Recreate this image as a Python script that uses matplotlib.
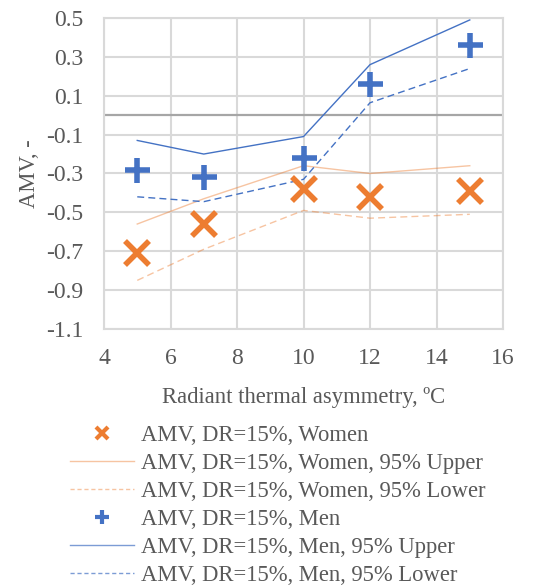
import matplotlib.pyplot as plt
from matplotlib.lines import Line2D

plt.rcParams['font.family'] = ['Liberation Serif', 'DejaVu Serif']

# Radiant thermal asymmetry (degC)
asym = [5, 7, 10, 12, 15]

# Actual mean vote, women (mean and 95% bounds)
women = [-0.71, -0.56, -0.38, -0.42, -0.39]
women_upper = [-0.56, -0.43, -0.26, -0.30, -0.26]
women_lower = [-0.85, -0.69, -0.49, -0.53, -0.51]

# Actual mean vote, men (mean and 95% bounds)
men = [-0.28, -0.32, -0.22, 0.16, 0.36]
men_upper = [-0.13, -0.20, -0.11, 0.26, 0.49]
men_lower = [-0.42, -0.445, -0.33, 0.064, 0.24]

yticks = [0.5, 0.3, 0.1, -0.1, -0.3, -0.5, -0.7, -0.9, -1.1]
xticks = [4, 6, 8, 10, 12, 14, 16]

orange = '#ED7D31'
blue = '#4472C4'
grey = '#595959'
fs = 16.3

fig = plt.figure(figsize=(5.38, 5.86), dpi=100)
ax = fig.add_axes([0.1933, 0.4386, 0.7417, 0.5307])

ax.plot(asym, women_upper, color=orange, alpha=0.45, lw=1.0)
ax.plot(asym, women_lower, color=orange, alpha=0.45, lw=1.0, ls=(0, (5, 3)))
ax.plot(asym, men_upper, color=blue, lw=1.0)
ax.plot(asym, men_lower, color=blue, lw=1.0, ls=(0, (5, 3)))
ax.plot(asym, women, ls='none', marker='x', ms=17, mew=4, color=orange, zorder=4)
ax.plot(asym, men, ls='none', marker='+', ms=18, mew=4, color=blue, zorder=4)

ax.axhline(0, color='#A6A6A6', lw=1.6, zorder=1)

ax.set_xlim(4, 16)
ax.set_ylim(-1.1, 0.5)
ax.set_xticks(xticks)
ax.set_yticks(yticks)
ax.set_yticklabels([f'{v:.1f}' for v in yticks])
ax.grid(True, color='#D9D9D9', lw=1.5, zorder=0)
ax.set_axisbelow(True)
ax.tick_params(length=0, labelsize=17, labelcolor=grey)
ax.tick_params(axis='y', pad=15)
ax.tick_params(axis='x', pad=14)
for s in ax.spines.values():
    s.set_color('#D9D9D9')
    s.set_linewidth(1.5)

ax.set_xlabel('Radiant thermal asymmetry, ºC', fontsize=fs, color=grey, labelpad=13)
ax.set_ylabel('AMV, -', fontsize=fs, color=grey, labelpad=4)

handles = [
    Line2D([], [], ls='none', marker='x', ms=9, mew=3, color=orange),
    Line2D([], [], color=orange, alpha=0.45, lw=1.0),
    Line2D([], [], color=orange, alpha=0.45, lw=1.0, ls=(0, (3, 2))),
    Line2D([], [], ls='none', marker='+', ms=10, mew=3, color=blue),
    Line2D([], [], color=blue, alpha=0.7, lw=1.0),
    Line2D([], [], color=blue, alpha=0.7, lw=1.0, ls=(0, (3, 2))),
]
labels = [
    'AMV, DR=15%, Women',
    'AMV, DR=15%, Women, 95% Upper',
    'AMV, DR=15%, Women, 95% Lower',
    'AMV, DR=15%, Men',
    'AMV, DR=15%, Men, 95% Upper',
    'AMV, DR=15%, Men, 95% Lower',
]
leg = fig.legend(handles, labels, loc='upper left', bbox_to_anchor=(0.114, 0.29),
                 frameon=False, fontsize=fs, handlelength=2.8, handletextpad=0.3,
                 labelspacing=0.31, borderaxespad=0)
for t in leg.get_texts():
    t.set_color(grey)

fig.savefig('out.png', dpi=100)
